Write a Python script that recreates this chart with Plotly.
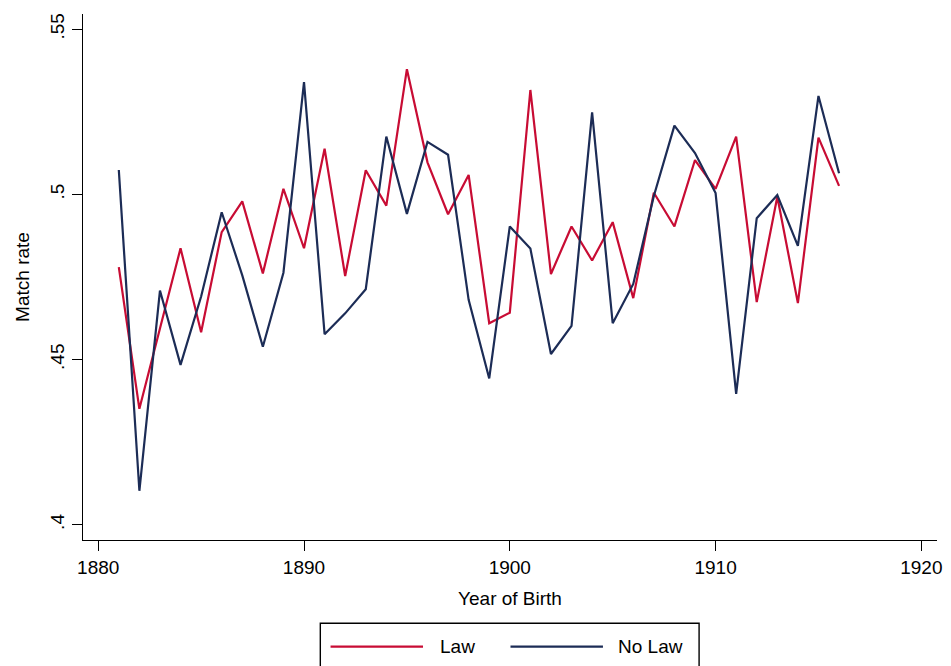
import plotly.graph_objects as go

# Birth cohorts and match rates by state law status
years = list(range(1881, 1917))

law = [0.4780, 0.4351, 0.4594, 0.4837, 0.4583, 0.4886, 0.4979, 0.4761, 0.5017, 0.4837,
       0.5138, 0.4753, 0.5073, 0.4966, 0.5379, 0.5097, 0.4940, 0.5059, 0.4610, 0.4642,
       0.5316, 0.4759, 0.4903, 0.4800, 0.4916, 0.4686, 0.5005, 0.4903, 0.5104, 0.5017,
       0.5175, 0.4674, 0.4993, 0.4671, 0.5172, 0.5026]

no_law = [0.5074, 0.4103, 0.4709, 0.4484, 0.4691, 0.4946, 0.4755, 0.4539, 0.4763, 0.5340,
          0.4577, 0.4640, 0.4713, 0.5175, 0.4941, 0.5159, 0.5120, 0.4681, 0.4443, 0.4903,
          0.4836, 0.4517, 0.4602, 0.5248, 0.4610, 0.4729, 0.4995, 0.5208, 0.5125, 0.5004,
          0.4396, 0.4928, 0.4998, 0.4844, 0.5298, 0.5064]

x_ticks = [1880, 1890, 1900, 1910, 1920]
y_ticks = [0.40, 0.45, 0.50, 0.55]
y_tick_text = [".4", ".45", ".5", ".55"]

RED = "rgb(200,12,52)"
NAVY = "rgb(28,44,86)"
FONT = "Liberation Sans, Arial, Helvetica, sans-serif"
FS = 19

W, H = 951, 666
ML, MR, MT, MB = 83, 9, 14, 126
PW, PH = W - ML - MR, H - MT - MB


def px(xpix):
    return (xpix - ML) / PW


def py(ypix):
    return (H - MB - ypix) / PH


fig = go.Figure()
fig.add_trace(go.Scatter(x=years, y=law, mode="lines", name="Law",
                         line=dict(color=RED, width=2.2)))
fig.add_trace(go.Scatter(x=years, y=no_law, mode="lines", name="No Law",
                         line=dict(color=NAVY, width=2.2)))

axis_common = dict(showgrid=False, zeroline=False, showline=True, linecolor="black",
                   linewidth=1.4, ticks="outside", ticklen=10, tickwidth=1.4,
                   tickcolor="black", mirror=False,
                   tickfont=dict(family=FONT, size=FS, color="black"))

fig.update_xaxes(range=[1879.26, 1920.76], tickvals=x_ticks,
                 title=dict(text="Year of Birth", font=dict(family=FONT, size=FS, color="black"),
                            standoff=14),
                 **axis_common)
fig.update_yaxes(range=[0.3954, 0.5546], tickvals=y_ticks, ticktext=y_tick_text,
                 tickangle=-90,
                 title=dict(text="Match rate", font=dict(family=FONT, size=FS, color="black"),
                            standoff=12),
                 **axis_common)

# Legend box drawn below the plot area
shapes = [
    dict(type="rect", xref="paper", yref="paper",
         x0=px(321.7), x1=px(702.7), y0=py(623.3), y1=py(700),
         line=dict(color="black", width=1.4), fillcolor="white", layer="above"),
    dict(type="line", xref="paper", yref="paper",
         x0=px(332), x1=px(425), y0=py(646.7), y1=py(646.7),
         line=dict(color=RED, width=2.2)),
    dict(type="line", xref="paper", yref="paper",
         x0=px(513), x1=px(606), y0=py(646.7), y1=py(646.7),
         line=dict(color=NAVY, width=2.2)),
]
annotations = [
    dict(text="Law", xref="paper", yref="paper", x=px(440), y=py(646.7),
         xanchor="left", yanchor="middle", showarrow=False,
         font=dict(family=FONT, size=FS, color="black")),
    dict(text="No Law", xref="paper", yref="paper", x=px(619), y=py(646.7),
         xanchor="left", yanchor="middle", showarrow=False,
         font=dict(family=FONT, size=FS, color="black")),
]

fig.update_layout(width=W, height=H, margin=dict(l=ML, r=MR, t=MT, b=MB),
                  paper_bgcolor="white", plot_bgcolor="white", showlegend=False,
                  shapes=shapes, annotations=annotations,
                  font=dict(family=FONT, size=FS, color="black"))

fig.write_html("out.html")
